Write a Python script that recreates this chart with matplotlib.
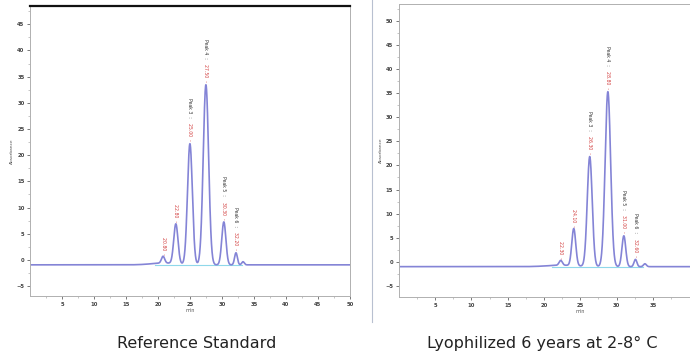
import numpy as np
import matplotlib.pyplot as plt

# peak tables (minutes, mAU above baseline, sigma)
ref_rt = [20.8, 22.8, 25.0, 27.5, 30.3, 32.2, 33.3]
ref_height = [1.3, 7.6, 23.1, 34.4, 8.2, 2.3, 0.6]
ref_sigma = [0.25, 0.33, 0.38, 0.42, 0.32, 0.22, 0.2]
ref_names = ['', '', 'Peak 3', 'Peak 4', 'Peak 5', 'Peak 6', None]
ref_base = -0.95

lyo_rt = [22.3, 24.1, 26.3, 28.8, 31.0, 32.6, 33.9]
lyo_height = [1.0, 7.7, 22.8, 36.3, 6.4, 1.5, 0.6]
lyo_sigma = [0.22, 0.27, 0.34, 0.38, 0.26, 0.2, 0.2]
lyo_names = ['', '', 'Peak 3', 'Peak 4', 'Peak 5', 'Peak 6', None]
lyo_base = -1.0

# slight baseline drift before the peak cluster (centre, height, width)
ref_drift = (21.0, 0.35, 2.0)
lyo_drift = (22.5, 0.3, 2.0)

ref_xticks = [5, 10, 15, 20, 25, 30, 35, 40, 45, 50]
lyo_xticks = [5, 10, 15, 20, 25, 30, 35]
ref_yticks = [-5, 0, 5, 10, 15, 20, 25, 30, 35, 40, 45]
lyo_yticks = [-5, 0, 5, 10, 15, 20, 25, 30, 35, 40, 45, 50]

trace_col = '#8484d6'
base_col = '#8fd8ea'
red = '#d23c3c'
spine_col = '#b0b0b0'


def trace(t, rts, hs, sig, base, drift):
    y = np.full_like(t, base)
    y += drift[1] * np.exp(-0.5 * ((t - drift[0]) / drift[2]) ** 2)
    for r, h, s in zip(rts, hs, sig):
        y += h * np.exp(-0.5 * ((t - r) / s) ** 2)
    return y


def draw(ax, rts, hs, sig, names, base, drift, xticks, yticks, ylim):
    t = np.linspace(0, 50, 3001)
    y = trace(t, rts, hs, sig, base, drift)
    ax.plot([rts[0] - 1.2, rts[-2] + 1.0], [base, base], color=base_col, lw=0.8, zorder=1)
    ax.plot(t, y, color=trace_col, lw=1.2, zorder=2)
    for r, h, nm in zip(rts, hs, names):
        if nm is None:
            continue
        tip = base + h
        ax.annotate(f'{r:.2f}  -', (r, tip), xytext=(0, 2), textcoords='offset points',
                    rotation=-90, ha='center', va='bottom', fontsize=3.3, color=red)
        if nm:
            ax.annotate(nm + '  :', (r, tip), xytext=(0, 19), textcoords='offset points',
                        rotation=-90, ha='center', va='bottom', fontsize=3.3, color='#333333')
    ax.set_xlim(0, 50)
    ax.set_ylim(*ylim)
    ax.set_xticks(xticks)
    ax.set_xticks(np.arange(2.5, 50, 5), minor=True)
    ax.set_yticks(yticks)
    ax.set_yticks(np.arange(yticks[0] + 2.5, yticks[-1] + 5, 5), minor=True)
    ax.tick_params(labelsize=3.8, colors='#444444', length=2, width=0.5, pad=2)
    ax.tick_params(which='minor', length=1.5, width=0.4, colors='#999999')
    for lab in ax.get_xticklabels() + ax.get_yticklabels():
        lab.set_fontweight('bold')
    ax.set_xlabel('min', fontsize=3.5, color='#555555', labelpad=1)
    ax.set_ylabel('Absorbance', fontsize=3.2, color='#555555', labelpad=2)
    for s in ax.spines.values():
        s.set_color(spine_col)
        s.set_linewidth(0.7)


fig = plt.figure(figsize=(6.9, 3.53), dpi=100)

ax1 = fig.add_axes([0.0435, 0.1615, 0.4635, 0.8215])
draw(ax1, ref_rt, ref_height, ref_sigma, ref_names, ref_base, ref_drift,
     ref_xticks, ref_yticks, (-6.9, 48.5))
ax1.spines['top'].set_color('#111111')
ax1.spines['top'].set_linewidth(1.6)

ax2 = fig.add_axes([0.578, 0.1586, 0.526, 0.8301])
draw(ax2, lyo_rt, lyo_height, lyo_sigma, lyo_names, lyo_base, lyo_drift,
     lyo_xticks, lyo_yticks, (-7.3, 53.5))

# divider between the two panels
fig.add_artist(plt.Line2D([372 / 690, 372 / 690], [1 - 322 / 353, 1.0],
                          color='#b8c0d0', lw=0.8))

fig.text(197 / 690, 1 - 343 / 353, 'Reference Standard', ha='center', va='center',
         fontsize=11.5, color='#222222')
fig.text(542 / 690, 1 - 343 / 353, 'Lyophilized 6 years at 2-8\u00b0 C', ha='center',
         va='center', fontsize=11.5, color='#222222')

fig.savefig('out.png', dpi=100)
